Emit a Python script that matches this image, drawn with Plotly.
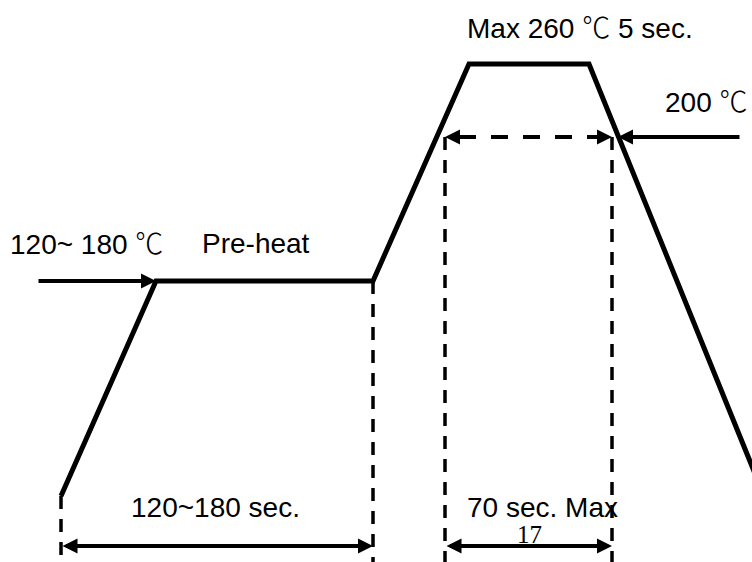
import plotly.graph_objects as go

# reflow profile, schematic units (x = time axis, y = temperature axis)
profile_time = [61, 156, 373, 469, 589, 790]
profile_temp = [66, 281, 281, 498, 498, 2]

# dashed guide lines: x position and top of each line
guide_time = [61, 373, 445, 612]
guide_top = [66, 281, 425, 425]
level_200 = 425
window_start, window_end = 445, 612

labels = ["120~ 180 ", "Pre-heat", "Max 260 ", " 5 sec.", "200 ", "120~180 sec.", "70 sec. Max", "17"]
DEG = "<span style=\"font-family:'Noto Sans CJK KR';font-weight:300\">℃</span>"

fig = go.Figure()

for gx, gt in zip(guide_time, guide_top):
    fig.add_trace(go.Scatter(x=[gx, gx], y=[gt, 0], mode="lines",
                             line=dict(color="black", width=3.5, dash="13px,10px")))
fig.add_trace(go.Scatter(x=[window_start + 14, window_end - 14], y=[level_200, level_200], mode="lines",
                         line=dict(color="black", width=4, dash="17px,15px")))

fig.add_trace(go.Scatter(x=profile_time, y=profile_temp, mode="lines",
                         line=dict(color="black", width=5)))

arr = dict(showarrow=True, text="", axref="x", ayref="y", arrowhead=2,
           arrowsize=0.75, arrowwidth=4, arrowcolor="black")
# solid pointers
fig.add_annotation(x=profile_time[1], y=profile_temp[1], ax=37, ay=profile_temp[1], **arr)
fig.add_annotation(x=618, y=level_200, ax=741, ay=level_200, **arr)
# heads of the dashed 200 degC window
fig.add_annotation(x=window_start, y=level_200, ax=window_start + 16, ay=level_200, **arr)
fig.add_annotation(x=window_end, y=level_200, ax=window_end - 16, ay=level_200, **arr)
# duration arrows (double headed)
for a, b in [(guide_time[0], guide_time[1]), (guide_time[2], guide_time[3])]:
    fig.add_annotation(x=b, y=16, ax=a, ay=16, arrowside="end+start",
                       startarrowhead=2, startarrowsize=0.75, **arr)

txt = dict(showarrow=False, xanchor="left", yanchor="middle",
           font=dict(family="Liberation Sans, Arial", size=28, color="black"))
fig.add_annotation(x=8, y=320, text=labels[0] + DEG, **txt)
fig.add_annotation(x=200, y=319, text=labels[1], **txt)
fig.add_annotation(x=465, y=536, text=labels[2] + DEG + labels[3], **txt)
fig.add_annotation(x=663, y=462, text=labels[4] + DEG, **txt)
fig.add_annotation(x=129, y=55, text=labels[5], **txt)
fig.add_annotation(x=465, y=55, text=labels[6], **txt)
fig.add_annotation(x=529, y=28, text=labels[7], showarrow=False, xanchor="center", yanchor="middle",
                   font=dict(family="Liberation Serif, Times New Roman", size=25, color="black"))

fig.update_layout(width=752, height=562, margin=dict(l=0, r=0, t=0, b=0),
                  paper_bgcolor="white", plot_bgcolor="white", showlegend=False)
fig.update_xaxes(range=[0, 752], visible=False, fixedrange=True)
fig.update_yaxes(range=[0, 562], visible=False, fixedrange=True)

# page body has a default 8px margin; drop it so the figure fills the window
fig.write_html("out.html", config={"displayModeBar": False},
               post_script="document.body.style.margin='0';")
